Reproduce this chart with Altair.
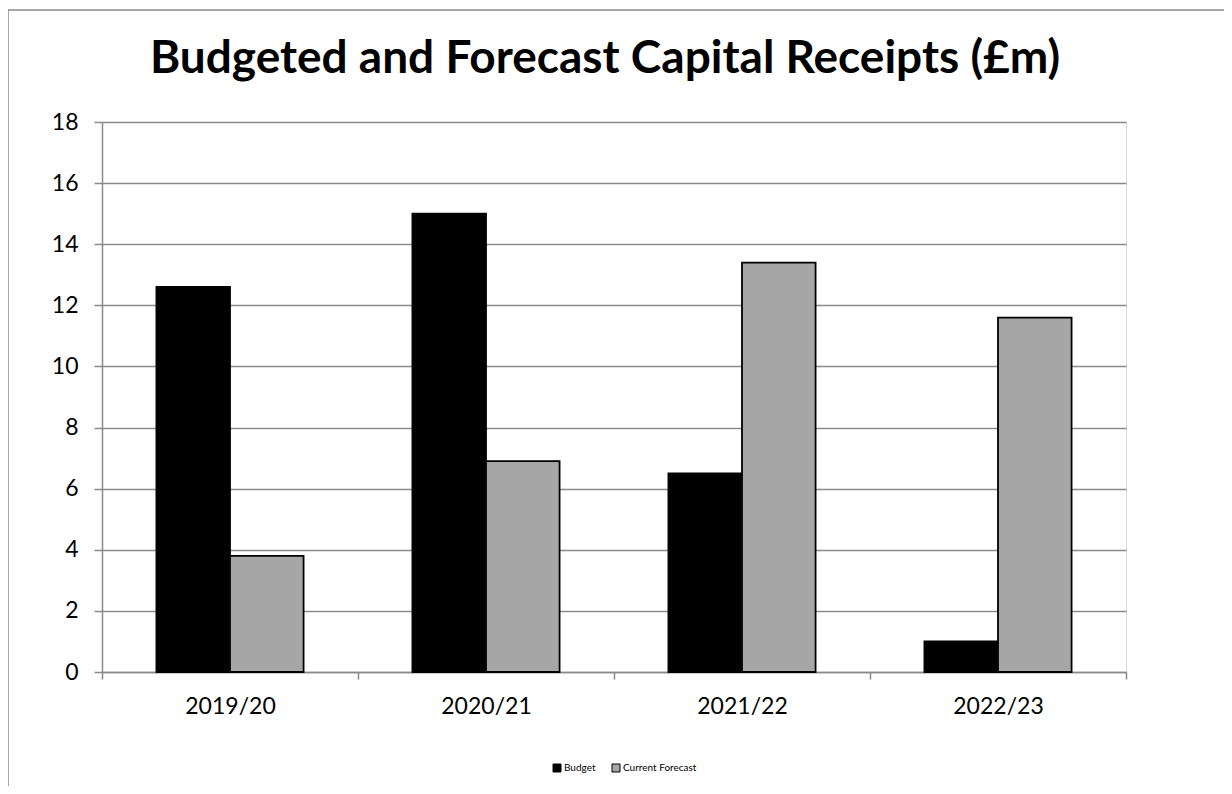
import altair as alt
import pandas as pd

years = ["2019/20", "2020/21", "2021/22", "2022/23"]
series = ["Budget", "Current Forecast"]
budget = [12.6, 15.0, 6.5, 1.0]
forecast = [3.8, 6.9, 13.4, 11.6]

rows = []
for i, y in enumerate(years):
    rows.append({"Year": y, "Series": series[0], "Value": budget[i]})
    rows.append({"Year": y, "Series": series[1], "Value": forecast[i]})
df = pd.DataFrame(rows)

FONT = "Lato"
GRID = "#8a8a8a"
W, H = 1024, 550

bars = alt.Chart(df).mark_bar(stroke="black", strokeWidth=1.8).encode(
    x=alt.X("Year:N", sort=years,
            scale=alt.Scale(paddingInner=0, paddingOuter=0),
            axis=alt.Axis(title=None, labelAngle=0, tickBand="extent", grid=False,
                          tickSize=7, labelPadding=16, labelFontSize=23,
                          labelColor="black", labelFont=FONT,
                          domainColor=GRID, tickColor=GRID,
                          domainWidth=1.5, tickWidth=1.5)),
    xOffset=alt.XOffset("Series:N", sort=series,
                        scale=alt.Scale(paddingInner=0, paddingOuter=0.74)),
    y=alt.Y("Value:Q", scale=alt.Scale(domain=[0, 18], nice=False),
            axis=alt.Axis(title=None, values=list(range(0, 19, 2)),
                          tickSize=8, labelPadding=16, labelFontSize=23,
                          labelColor="black", labelFont=FONT,
                          gridColor=GRID, gridWidth=1.5,
                          domainColor=GRID, tickColor=GRID,
                          domainWidth=1.5, tickWidth=1.5)),
    color=alt.Color("Series:N", sort=series,
                    scale=alt.Scale(domain=series, range=["#000000", "#a6a6a6"]),
                    legend=alt.Legend(title=None, orient="none", direction="horizontal",
                                      legendX=450, legendY=641,
                                      symbolType="square", symbolSize=64,
                                      symbolStrokeColor="black", symbolStrokeWidth=1,
                                      labelFontSize=10, labelFont=FONT, labelColor="black",
                                      labelOffset=2, columnPadding=14)),
)

frame = alt.Data(values=[{"k": 1}])
left_line = alt.Chart(frame).mark_rule(color=GRID, strokeWidth=1.5).encode(
    x=alt.value(-94), y=alt.value(-112), y2=alt.value(700))
top_line = alt.Chart(frame).mark_rule(color=GRID, strokeWidth=1.5).encode(
    x=alt.value(-94), x2=alt.value(1140), y=alt.value(-112))

chart = alt.layer(left_line, top_line, bars).properties(
    width=W, height=H,
    title=alt.TitleParams("Budgeted and Forecast Capital Receipts (£m)",
                          font=FONT, fontSize=46, fontWeight="bold", color="black",
                          anchor="middle", frame="group", dx=-9,
                          baseline="alphabetic", offset=-110),
    autosize=alt.AutoSizeParams(type="none"),
    padding={"left": 94, "top": 114, "right": 98, "bottom": 114},
).configure_view(stroke=None).configure(background="white")

chart.save("out.html", embed_options={"renderer": "svg", "actions": False})
